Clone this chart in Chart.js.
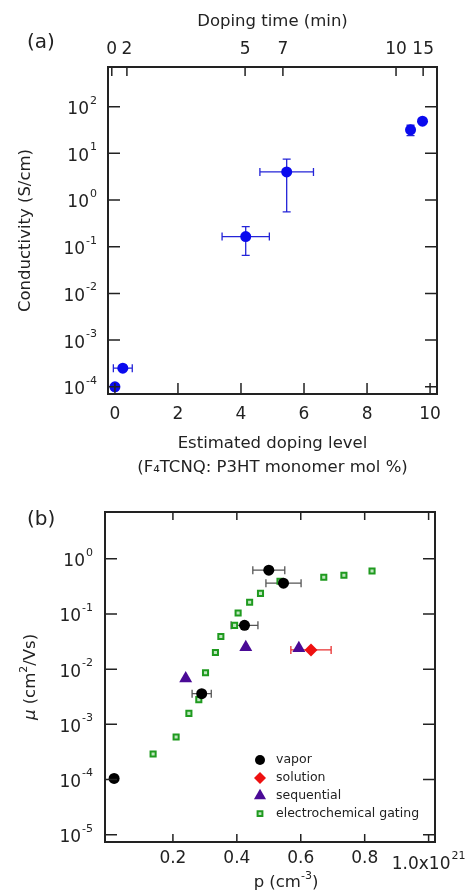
<!DOCTYPE html>
<html>
<head>
<meta charset="utf-8">
<script src="https://cdn.jsdelivr.net/npm/chart.js@4.4.0/dist/chart.umd.min.js"></script>
<style>
  html, body { margin: 0; padding: 0; background: #fff; }
  #wrapA { position: absolute; left: 0; top: 0; width: 466px; height: 480px; }
  #wrapB { position: absolute; left: 0; top: 480px; width: 466px; height: 414px; }
</style>
</head>
<body>
<div id="wrapA"><canvas id="chartA" width="466" height="480"></canvas></div>
<div id="wrapB"><canvas id="chartB" width="466" height="414"></canvas></div>
<script>
// ---- panel (a) data ----
const dopingLevel = [0, 0.25, 4.15, 5.45, 9.38, 9.76];
const conductivity = [1.0e-4, 2.5e-4, 0.165, 4.0, 32, 49];
const dopingLevelErr = [0, 0.3, 0.75, 0.85, 0, 0];
const conductivityLow = [null, null, 0.065, 0.56, 24, null];
const conductivityHigh = [null, null, 0.27, 7.5, 40, null];
const timeTickPos = [-0.1, 0.38, 4.13, 5.33, 8.92, 9.78];
const timeTickLabels = ['0', '2', '5', '7', '10', '15'];
const levelTicks = [0, 2, 4, 6, 8, 10];
const condDecades = [-4, -3, -2, -1, 0, 1, 2];

// ---- panel (b) data ----
const vaporP = [0.016, 0.29, 0.424, 0.50, 0.546];
const vaporMu = [1.05e-4, 3.6e-3, 0.062, 0.62, 0.36];
const vaporPErr = [0, 0.03, 0.042, 0.05, 0.055];
const solutionP = [0.632];
const solutionMu = [0.0223];
const solutionPErr = [0.063];
const sequentialP = [0.24, 0.428, 0.594];
const sequentialMu = [0.0068, 0.025, 0.024];
const gatingP = [0.138, 0.21, 0.25, 0.281, 0.302, 0.333, 0.35, 0.393, 0.404, 0.44, 0.474, 0.535, 0.672, 0.735, 0.823];
const gatingMu = [2.9e-4, 5.9e-4, 1.58e-3, 2.8e-3, 8.6e-3, 0.02, 0.039, 0.062, 0.104, 0.162, 0.235, 0.39, 0.46, 0.50, 0.60];
const pTicks = [0.2, 0.4, 0.6, 0.8, 1.0];
const muDecades = [-5, -4, -3, -2, -1, 0];

const FONT = '"DejaVu Sans", sans-serif';
const INK = '#222';
Chart.defaults.font.family = FONT;
Chart.defaults.color = INK;

function pts(xs, ys) {
    return xs.map((x, i) => ({ x: x, y: ys[i] }));
}
// force axis box size so the plot frame lands where it should
function fixSize(prop, size) {
    return scale => {
        scale[prop] = size;
        scale.paddingLeft = scale.paddingRight = scale.paddingTop = scale.paddingBottom = 0;
    };
}
function setTicks(values) {
    return scale => { scale.ticks = values.map(v => ({ value: v })); };
}

// base + raised exponent, e.g. 10^-2
function drawPow(ctx, base, exp, x, y, align) {
    ctx.font = '17px ' + FONT;
    const wb = ctx.measureText(base).width;
    ctx.font = '11px ' + FONT;
    const we = ctx.measureText(exp).width;
    const total = wb + 1 + we;
    const left = align === 'right' ? x - total : x - total / 2;
    ctx.textAlign = 'left';
    ctx.textBaseline = 'middle';
    ctx.font = '17px ' + FONT;
    ctx.fillText(base, left, y);
    ctx.font = '11px ' + FONT;
    ctx.fillText(exp, left + wb + 1, y - 9);
}

// mixed text run (italic / superscript pieces)
function drawRich(ctx, segs, x, y, rot) {
    const fontOf = s => (s.italic ? 'italic ' : '') + (s.sup ? '11px ' : '16.5px ') + FONT;
    ctx.save();
    ctx.translate(x, y);
    ctx.rotate(rot);
    ctx.textAlign = 'left';
    ctx.textBaseline = 'middle';
    let w = 0;
    const widths = segs.map(s => { ctx.font = fontOf(s); const m = ctx.measureText(s.t).width; w += m; return m; });
    let cx = -w / 2;
    segs.forEach((s, i) => {
        ctx.font = fontOf(s);
        ctx.fillText(s.t, cx, s.sup ? -7 : 0);
        cx += widths[i];
    });
    ctx.restore();
}

// frame + inward tick marks
const frameTicks = {
    id: 'frameTicks',
    afterDraw(chart, args, opts) {
        const { ctx, chartArea: a } = chart;
        ctx.save();
        ctx.strokeStyle = INK;
        ctx.lineWidth = 1.5;
        ctx.beginPath();
        opts.marks.forEach(m => {
            const s = chart.scales[m.scale];
            s.ticks.forEach(t => {
                const p = s.getPixelForValue(t.value);
                m.sides.forEach(([side, len]) => {
                    if (side === 'left') { ctx.moveTo(a.left, p); ctx.lineTo(a.left + len, p); }
                    if (side === 'right') { ctx.moveTo(a.right, p); ctx.lineTo(a.right - len, p); }
                    if (side === 'bottom') { ctx.moveTo(p, a.bottom); ctx.lineTo(p, a.bottom - len); }
                    if (side === 'top') { ctx.moveTo(p, a.top); ctx.lineTo(p, a.top + len); }
                });
            });
        });
        ctx.stroke();
        ctx.lineWidth = 2;
        ctx.strokeRect(a.left, a.top, a.right - a.left, a.bottom - a.top);
        ctx.restore();
    }
};

// log tick labels as 10^n, plus any extra powered label
const powLabels = {
    id: 'powLabels',
    afterDraw(chart, args, opts) {
        const { ctx, chartArea: a } = chart;
        ctx.save();
        ctx.fillStyle = INK;
        const ys = chart.scales.y;
        ys.ticks.forEach(t => {
            const e = Math.round(Math.log10(t.value));
            drawPow(ctx, '10', String(e), a.left - opts.gap, ys.getPixelForValue(t.value) + 3, 'right');
        });
        if (opts.extra) {
            const xs = chart.scales.x;
            drawPow(ctx, opts.extra.base, opts.extra.exp, xs.getPixelForValue(opts.extra.value), a.bottom + opts.extra.dy, 'center');
        }
        (opts.titles || []).forEach(tt => {
            ctx.fillStyle = INK;
            const x = tt.axis === 'y' ? tt.x : (a.left + a.right) / 2 + tt.dx;
            const y = tt.axis === 'y' ? (a.top + a.bottom) / 2 : a.bottom + tt.dy;
            drawRich(ctx, tt.segs, x, y, tt.axis === 'y' ? -Math.PI / 2 : 0);
        });
        ctx.restore();
    }
};

// error bars from dataset.err arrays
const errorBars = {
    id: 'errorBars',
    beforeDatasetsDraw(chart) {
        const ctx = chart.ctx;
        const xs = chart.scales.x, ys = chart.scales.y;
        const cap = 4;
        chart.data.datasets.forEach(ds => {
            if (!ds.err) return;
            ctx.save();
            ctx.strokeStyle = ds.err.color;
            ctx.lineWidth = 1.3;
            ctx.beginPath();
            ds.data.forEach((pt, j) => {
                const px = xs.getPixelForValue(pt.x), py = ys.getPixelForValue(pt.y);
                const dx = ds.err.x ? ds.err.x[j] : 0;
                if (dx) {
                    const l = xs.getPixelForValue(pt.x - dx), r = xs.getPixelForValue(pt.x + dx);
                    ctx.moveTo(l, py); ctx.lineTo(r, py);
                    ctx.moveTo(l, py - cap); ctx.lineTo(l, py + cap);
                    ctx.moveTo(r, py - cap); ctx.lineTo(r, py + cap);
                }
                const lo = ds.err.yLo ? ds.err.yLo[j] : null;
                const hi = ds.err.yHi ? ds.err.yHi[j] : null;
                if (lo) {
                    const b = ys.getPixelForValue(lo);
                    ctx.moveTo(px, py); ctx.lineTo(px, b);
                    ctx.moveTo(px - cap, b); ctx.lineTo(px + cap, b);
                }
                if (hi) {
                    const t = ys.getPixelForValue(hi);
                    ctx.moveTo(px, py); ctx.lineTo(px, t);
                    ctx.moveTo(px - cap, t); ctx.lineTo(px + cap, t);
                }
            });
            ctx.stroke();
            ctx.restore();
        });
    }
};

// "(a)" / "(b)" panel tags
const panelTag = {
    id: 'panelTag',
    afterDraw(chart, args, opts) {
        const { ctx, chartArea: a } = chart;
        ctx.save();
        ctx.fillStyle = INK;
        ctx.font = '20px ' + FONT;
        ctx.textAlign = 'left';
        ctx.textBaseline = 'middle';
        ctx.fillText(opts.text, a.left + opts.dx, a.top + opts.dy);
        ctx.restore();
    }
};

// legend drawn inside the plot area
const insideLegend = {
    id: 'insideLegend',
    afterDraw(chart, args, opts) {
        if (!opts.show) return;
        const { ctx, chartArea: a } = chart;
        ctx.save();
        chart.data.datasets.forEach((ds, i) => {
            const x = a.left + opts.dx, y = a.top + opts.dy + i * opts.step;
            ctx.fillStyle = ds.backgroundColor;
            ctx.strokeStyle = ds.borderColor;
            ctx.lineWidth = ds.borderWidth;
            Chart.helpers.drawPoint(ctx, { pointStyle: ds.pointStyle, radius: ds.legendRadius, borderWidth: ds.borderWidth, rotation: 0 }, x, y);
            ctx.fillStyle = INK;
            ctx.font = '12.5px ' + FONT;
            ctx.textAlign = 'left';
            ctx.textBaseline = 'middle';
            ctx.fillText(ds.label, x + 16, y);
        });
        ctx.restore();
    }
};

Chart.register(frameTicks, powLabels, errorBars, panelTag, insideLegend);

// ---------- panel (a) ----------
new Chart(document.getElementById('chartA'), {
    type: 'scatter',
    data: {
        datasets: [{
            label: 'F4TCNQ vapor',
            data: pts(dopingLevel, conductivity),
            pointStyle: 'circle',
            pointRadius: 5.5,
            backgroundColor: '#0a0aee',
            borderColor: '#0a0aee',
            borderWidth: 0,
            err: { x: dopingLevelErr, yLo: conductivityLow, yHi: conductivityHigh, color: '#2424d8' }
        }]
    },
    options: {
        responsive: false,
        animation: false,
        layout: { padding: { left: 0, right: 29, top: 0, bottom: 0 } },
        scales: {
            x: {
                type: 'linear',
                position: 'bottom',
                min: -0.22,
                max: 10.22,
                afterBuildTicks: setTicks(levelTicks),
                afterFit: fixSize('height', 86),
                grid: { display: false, drawTicks: false },
                border: { display: false },
                ticks: { padding: 10, font: { size: 17 }, color: INK, maxRotation: 0 },
                title: {
                    display: true,
                    text: ['Estimated doping level', '(F₄TCNQ: P3HT monomer mol %)'],
                    font: { size: 16.5, lineHeight: 1.45 },
                    padding: { top: 0, bottom: 0 },
                    color: INK
                }
            },
            x2: {
                type: 'linear',
                position: 'top',
                min: -0.22,
                max: 10.22,
                afterBuildTicks: setTicks(timeTickPos),
                afterFit: fixSize('height', 67),
                grid: { display: false, drawTicks: false },
                border: { display: false },
                ticks: {
                    padding: 7,
                    font: { size: 17 },
                    color: INK,
                    maxRotation: 0,
                    autoSkip: false,
                    callback: (v, i) => timeTickLabels[i]
                },
                title: {
                    display: true,
                    text: 'Doping time (min)',
                    font: { size: 16.5 },
                    padding: { top: 12, bottom: 0 },
                    color: INK
                }
            },
            y: {
                type: 'logarithmic',
                min: Math.pow(10, -4.13),
                max: Math.pow(10, 2.85),
                afterBuildTicks: setTicks(condDecades.map(e => Math.pow(10, e))),
                afterFit: fixSize('width', 108),
                grid: { display: false, drawTicks: false },
                border: { display: false },
                ticks: { display: false },
                title: {
                    display: true,
                    text: 'Conductivity (S/cm)',
                    font: { size: 16.5 },
                    padding: { top: 16, bottom: 0 },
                    color: INK
                }
            }
        },
        plugins: {
            legend: { display: false },
            tooltip: { enabled: false },
            frameTicks: {
                marks: [
                    { scale: 'y', sides: [['left', 12], ['right', 12]] },
                    { scale: 'x', sides: [['bottom', 11]] },
                    { scale: 'x2', sides: [['top', 9]] }
                ]
            },
            powLabels: { gap: 11 },
            panelTag: { text: '(a)', dx: -81, dy: -24 },
            insideLegend: { show: false }
        }
    }
});

// ---------- panel (b) ----------
new Chart(document.getElementById('chartB'), {
    type: 'scatter',
    data: {
        datasets: [{
            label: 'vapor',
            data: pts(vaporP, vaporMu),
            pointStyle: 'circle',
            pointRadius: 5.5,
            legendRadius: 5,
            backgroundColor: '#000',
            borderColor: '#000',
            borderWidth: 0,
            err: { x: vaporPErr, color: '#555' }
        }, {
            label: 'solution',
            data: pts(solutionP, solutionMu),
            pointStyle: 'rectRot',
            pointRadius: 6.5,
            legendRadius: 6,
            backgroundColor: '#ee1111',
            borderColor: '#ee1111',
            borderWidth: 0,
            err: { x: solutionPErr, color: '#e83030' }
        }, {
            label: 'sequential',
            data: pts(sequentialP, sequentialMu),
            pointStyle: 'triangle',
            pointRadius: 7.5,
            legendRadius: 7,
            backgroundColor: '#4a0a96',
            borderColor: '#4a0a96',
            borderWidth: 0
        }, {
            label: 'electrochemical gating',
            data: pts(gatingP, gatingMu),
            pointStyle: 'rect',
            pointRadius: 3.6,
            legendRadius: 3.4,
            backgroundColor: '#bfe6bf',
            borderColor: '#1f9a1f',
            borderWidth: 2
        }]
    },
    options: {
        responsive: false,
        animation: false,
        layout: { padding: { left: 0, right: 31, top: 32, bottom: 0 } },
        scales: {
            x: {
                type: 'linear',
                position: 'bottom',
                min: -0.0125,
                max: 1.02,
                afterBuildTicks: setTicks(pTicks),
                afterFit: fixSize('height', 52),
                grid: { display: false, drawTicks: false },
                border: { display: false },
                ticks: {
                    padding: 6,
                    font: { size: 17 },
                    color: INK,
                    maxRotation: 0,
                    autoSkip: false,
                    callback: v => (v === 1 ? '' : v.toFixed(1))
                },
                title: { display: false }
            },
            y: {
                type: 'logarithmic',
                min: Math.pow(10, -5.13),
                max: Math.pow(10, 0.845),
                afterBuildTicks: setTicks(muDecades.map(e => Math.pow(10, e))),
                afterFit: fixSize('width', 105),
                grid: { display: false, drawTicks: false },
                border: { display: false },
                ticks: { display: false },
                title: { display: false }
            }
        },
        plugins: {
            legend: { display: false },
            tooltip: { enabled: false },
            frameTicks: {
                marks: [
                    { scale: 'y', sides: [['left', 12], ['right', 12]] },
                    { scale: 'x', sides: [['bottom', 8], ['top', 8]] }
                ]
            },
            powLabels: {
                gap: 12,
                extra: { base: '1.0x10', exp: '21', value: 1.0, dy: 23 },
                titles: [
                    { axis: 'y', x: 31, segs: [{ t: 'μ', italic: true }, { t: ' (cm' }, { t: '2', sup: true }, { t: '/Vs)' }] },
                    { axis: 'x', dx: 16, dy: 41, segs: [{ t: 'p (cm' }, { t: '-3', sup: true }, { t: ')' }] }
                ]
            },
            panelTag: { text: '(b)', dx: -78, dy: 8 },
            insideLegend: { show: true, dx: 155, dy: 248, step: 17.9 }
        }
    }
});
</script>
</body>
</html>
